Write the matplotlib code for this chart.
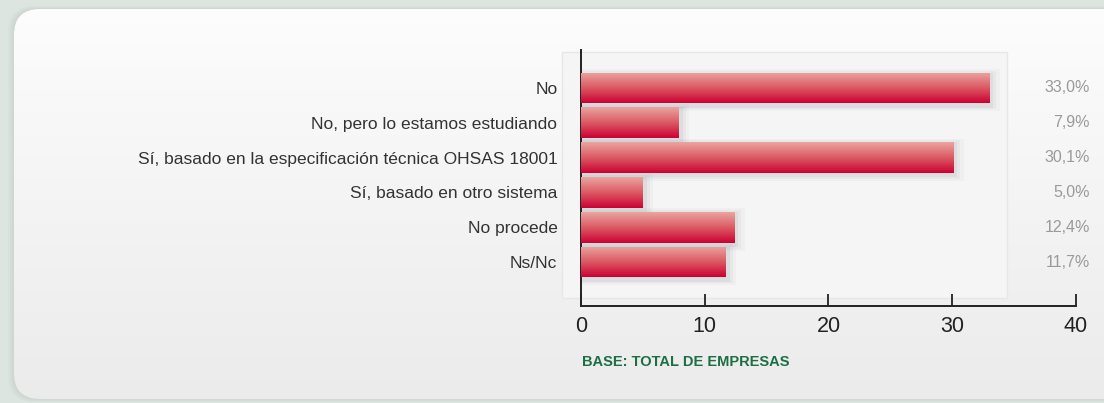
import matplotlib.pyplot as plt
import numpy as np
from matplotlib.patches import FancyBboxPatch, Rectangle
from matplotlib.colors import LinearSegmentedColormap
from matplotlib.transforms import blended_transform_factory

# Data
categories = ['No', 'No, pero lo estamos estudiando',
              'Sí, basado en la especificación técnica OHSAS 18001',
              'Sí, basado en otro sistema', 'No procede', 'Ns/Nc']
values = [33.0, 7.9, 30.1, 5.0, 12.4, 11.7]
value_labels = ['33,0%', '7,9%', '30,1%', '5,0%', '12,4%', '11,7%']
xticks = [0, 10, 20, 30, 40]

W, H = 1104, 403
plt.rcParams['font.family'] = ['Liberation Sans', 'DejaVu Sans']

fig = plt.figure(figsize=(W / 100, H / 100), dpi=100)
fig.patch.set_facecolor('#dde5e0')

# rounded background panel with vertical gradient
bg = fig.add_axes([0, 0, 1, 1])
bg.set_xlim(0, W)
bg.set_ylim(H, 0)
bg.axis('off')
# soft shadow behind panel
for k, a in zip([6, 4, 2], [0.05, 0.07, 0.09]):
    bg.add_patch(FancyBboxPatch((14 - k, 9 - k / 2), W + 30, 390 + k,
                                boxstyle='round,pad=0,rounding_size=26',
                                facecolor='#9aa59f', edgecolor='none', alpha=a, zorder=0))
panel = FancyBboxPatch((14, 9), W + 30, 390, boxstyle='round,pad=0,rounding_size=26',
                       transform=bg.transData, facecolor='none', edgecolor='none')
bg.add_patch(panel)
grad = np.linspace(0, 1, 256).reshape(-1, 1)
im = bg.imshow(grad, extent=[0, W, H, 0],
               cmap=LinearSegmentedColormap.from_list('panel', ['#fdfdfd', '#eaebea']),
               aspect='auto', zorder=1)
im.set_clip_path(panel)
bg.set_xlim(0, W)
bg.set_ylim(H, 0)
# inner plot box
bg.add_patch(Rectangle((562, 52), 445, 246, facecolor='#f5f5f5', edgecolor='#e6e7e7',
                       lw=1, zorder=2))

# main bar axes
left, right, top, bottom = 581, 1076, 50, 306
ax = fig.add_axes([left / W, 1 - bottom / H, (right - left) / W, (bottom - top) / H])
ax.set_facecolor('none')

bar_grad = np.linspace(0, 1, 256).reshape(-1, 1)
bar_cmap = LinearSegmentedColormap.from_list('bar', ['#eba5a1', '#dc5a64', '#cc0033'])
y = np.arange(len(categories))
bh = 0.88
for yi, v in zip(y, values):
    # soft shadow
    for k, a in zip([1.2, 0.8, 0.45], [0.05, 0.07, 0.1]):
        ax.add_patch(Rectangle((0, yi - bh / 2 - 0.14 * k + 0.06), v + 0.7 * k, bh + 0.28 * k,
                               facecolor='#80868c', edgecolor='none', alpha=a, zorder=2))
    rect = Rectangle((0, yi - bh / 2), v, bh, facecolor='none', edgecolor='none', zorder=3)
    ax.add_patch(rect)
    bim = ax.imshow(bar_grad, extent=[0, v, yi + bh / 2, yi - bh / 2], cmap=bar_cmap,
                    aspect='auto', zorder=3)
    bim.set_clip_path(rect)
ax.set_xlim(0, 40)
ax.set_ylim(6.26, -1.09)

ax.set_yticks(y)
ax.set_yticklabels(categories, fontsize=12.5, color='#333333')
ax.tick_params(axis='y', length=0, pad=17)
ax.set_xticks(xticks)
ax.set_xticklabels([str(t) for t in xticks], fontsize=15.5, color='#222222')
ax.tick_params(axis='x', direction='in', length=9, width=1.3, color='#222222', pad=7)
for s in ['top', 'right']:
    ax.spines[s].set_visible(False)
for s in ['left', 'bottom']:
    ax.spines[s].set_color('#222222')
    ax.spines[s].set_linewidth(1.4)

trans = blended_transform_factory(fig.transFigure, ax.transData)
for yi, lab in zip(y, value_labels):
    ax.text(1090 / W, yi, lab, transform=trans,
            ha='right', va='center', fontsize=11.5, color='#9a9a9a')

fig.text(582 / W, 1 - 362 / H, 'BASE: TOTAL DE EMPRESAS', ha='left', va='center',
         fontsize=10.5, color='#1d6e43', fontweight='bold')

fig.savefig('out.png', dpi=100, facecolor=fig.get_facecolor())
